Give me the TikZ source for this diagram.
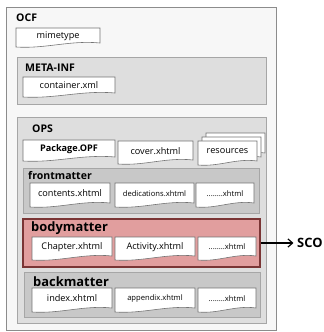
\documentclass[tikz,border=0pt]{standalone}
\usepackage{fontspec}
\setmainfont{Open Sans}
\usepackage{xcolor}
\usetikzlibrary{fit,arrows.meta}

\definecolor{ocfgray}{HTML}{F7F7F7}
\definecolor{boxgray}{HTML}{DEDEDE}
\definecolor{matgray}{HTML}{C8C8C8}
\definecolor{bodyred}{HTML}{E19E9E}
\definecolor{bodyline}{HTML}{7A3535}

\tikzset{
  ocfbox/.style={draw=black!45, fill=ocfgray, inner sep=0pt, line width=0.8pt},
  dirbox/.style={draw=black!35, fill=boxgray, inner sep=0pt, line width=0.6pt},
  matbox/.style={draw=black!35, fill=matgray, inner sep=0pt, line width=0.6pt},
  bodybox/.style={draw=bodyline, fill=bodyred, inner sep=0pt, line width=1pt},
  heading/.style={anchor=west, inner sep=0pt, font=\bfseries\fontsize{9}{10}\selectfont},
  bigheading/.style={heading, font=\bfseries\fontsize{11}{12}\selectfont},
  docline/.style={draw=black!55, fill=white, line width=0.5pt},
  doctext/.style={inner sep=0pt, font=\fontsize{7.8}{8}\selectfont},
  docsmall/.style={inner sep=0pt, font=\fontsize{6.5}{7}\selectfont},
}

% file with wavy bottom: [style]{name}{left}{top}{right}{bottom}{text}
\newcommand{\docfile}[7][doctext]{%
  \draw[docline] (#3,#4) -- (#5,#4) -- (#5,#6-4)
    .. controls ({#5-0.35*(#5-#3)},#6-7) and ({#3+0.35*(#5-#3)},#6+2) .. (#3,#6) -- cycle;
  \node[#1] (#2) at ({(#3+#5)/2},{(#4+#6)/2-1.5}) {#7};
}

\begin{document}
\begin{tikzpicture}[x=0.03cm, y=-0.03cm]
  \useasboundingbox (0,0) rectangle (323,332);

  % containers
  \node[ocfbox, fit={(6,7) (276,330)}] (ocf) {};
  \node[dirbox, fit={(17,57) (266,104)}] (metainf) {};
  \node[dirbox, fit={(17,117) (266,323)}] (ops) {};
  \node[matbox, fit={(23,168) (259,213)}] (front) {};
  \node[bodybox, fit={(23,219) (260,267)}] (body) {};
  \node[matbox, fit={(24,272) (260,317)}] (back) {};

  % headings
  \node[heading] (ocflbl) at (16,18) {OCF};
  \node[heading] (metalbl) at (25,68) {META-INF};
  \node[heading] (opslbl) at (32,129) {OPS};
  \node[heading] (frontlbl) at (28,176) {frontmatter};
  \node[bigheading] (bodylbl) at (31,228) {bodymatter};
  \node[bigheading] (backlbl) at (33,282) {backmatter};

  % files
  \docfile{mime}{16}{28}{100}{47}{mimetype}
  \docfile{container}{23}{77}{115}{97}{container.xml}
  \docfile[doctext, font=\bfseries\fontsize{7.8}{8}\selectfont]{package}{23}{140}{115}{161}{Package.OPF}
  \docfile{cover}{118}{141}{193}{164}{cover.xhtml}
  \foreach \d in {8,4} {
    \draw[docline] (198+\d,141-\d) -- (257+\d,141-\d) -- (257+\d,161-\d)
      .. controls (236+\d,158-\d) and (219+\d,167-\d) .. (198+\d,165-\d) -- cycle;
  }
  \docfile{res}{198}{141}{257}{165}{resources}

  \docfile{contents}{30}{183}{110}{207}{contents.xhtml}
  \docfile[docsmall]{dedic}{115}{183}{194}{207}{dedications.xhtml}
  \docfile[docsmall]{frontmore}{196}{183}{254}{207}{........xhtml}

  \docfile{chapter}{32}{237}{112}{260}{Chapter.xhtml}
  \docfile{activity}{115}{237}{195}{260}{Activity.xhtml}
  \docfile[docsmall]{bodymore}{198}{237}{256}{260}{........xhtml}

  \docfile{index}{32}{288}{112}{312}{index.xhtml}
  \docfile[docsmall]{appendix}{115}{288}{195}{312}{appendix.xhtml}
  \docfile[docsmall]{backmore}{198}{288}{256}{312}{........xhtml}

  % the SCO link
  \node[bigheading] (sco) at (297,243) {SCO};
  \draw[line width=1pt, -{Straight Barb[length=4pt, width=7pt]}] (body.east |- sco) -- ([xshift=-3pt]sco.west);
\end{tikzpicture}
\end{document}
